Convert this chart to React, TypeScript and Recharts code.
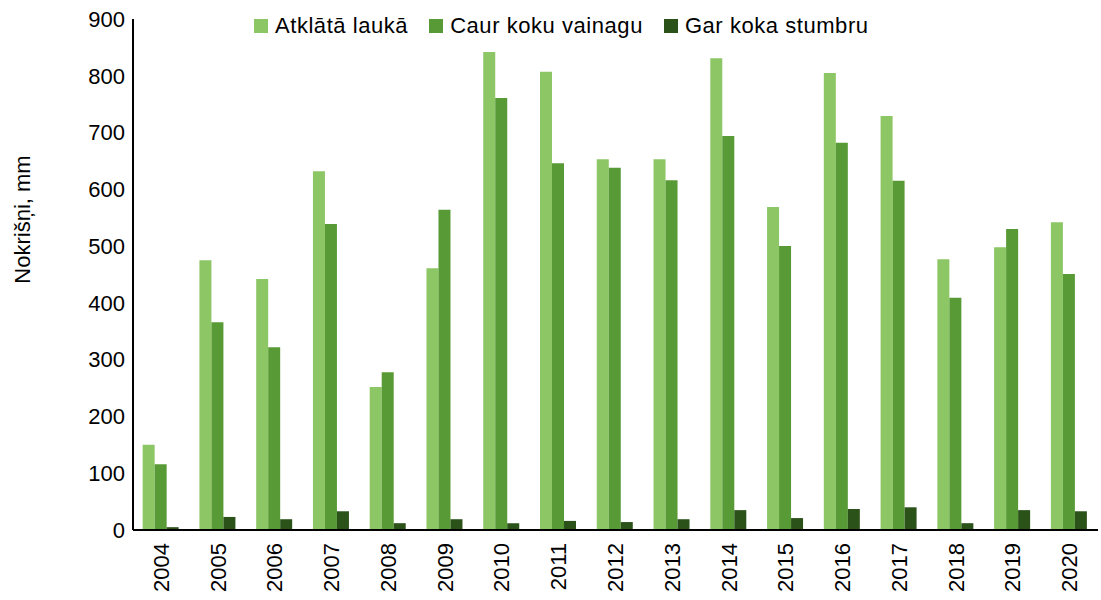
import React from 'react';
import { BarChart, Bar, XAxis, YAxis, Legend } from 'recharts';

const years = ['2004', '2005', '2006', '2007', '2008', '2009', '2010', '2011', '2012', '2013', '2014', '2015', '2016', '2017', '2018', '2019', '2020'];
const atklata = [150, 475, 442, 632, 252, 461, 842, 807, 653, 653, 831, 569, 805, 729, 477, 498, 542];
const caur = [116, 366, 322, 539, 278, 564, 761, 646, 638, 616, 694, 500, 682, 615, 409, 530, 451];
const gar = [5, 23, 19, 33, 12, 19, 12, 16, 14, 19, 35, 21, 37, 40, 12, 35, 33];
const yTicks = [0, 100, 200, 300, 400, 500, 600, 700, 800, 900];
const seriesNames = ['Atklātā laukā', 'Caur koku vainagu', 'Gar koka stumbru'];
const seriesColors = ['#8CC665', '#589A35', '#2B5219'];

const data = years.map((y, i) => ({ year: y, a: atklata[i], c: caur[i], g: gar[i] }));

const FONT = '"Liberation Sans", Arial, sans-serif';

const XTick = (props: any) => {
  const { x, y, payload } = props;
  const ty = y + 5;
  return (
    <text
      x={x}
      y={ty}
      transform={`rotate(-90 ${x} ${ty})`}
      textAnchor="end"
      dominantBaseline="central"
      fontSize={22}
      fontFamily={FONT}
      fill="#000"
    >
      {payload.value}
    </text>
  );
};

const YLabel = (props: any) => {
  const vb = props.viewBox || { x: 0, y: 0, width: 0, height: 0 };
  const cx = vb.x + 22;
  const cy = vb.y + vb.height / 2 - 55;
  return (
    <text
      x={cx}
      y={cy}
      transform={`rotate(-90 ${cx} ${cy})`}
      textAnchor="middle"
      dominantBaseline="central"
      fontSize={22}
      fontFamily={FONT}
      fill="#000"
    >
      Nokrišņi, mm
    </text>
  );
};

const renderLegend = (props: any) => {
  const payload = props.payload || [];
  return (
    <div style={{ display: 'flex', alignItems: 'center', gap: 21, fontFamily: FONT, fontSize: 22, color: '#000', whiteSpace: 'nowrap', letterSpacing: 0.55 }}>
      {payload.map((p: any, i: number) => (
        <div key={i} style={{ display: 'flex', alignItems: 'center' }}>
          <span style={{ display: 'inline-block', width: 14, height: 14, background: p.color, marginRight: 7 }} />
          <span>{p.value}</span>
        </div>
      ))}
    </div>
  );
};

export default function App() {
  return (
    <div style={{ position: 'absolute', left: 0, top: 0, background: '#fff' }}>
      <BarChart
        width={1101}
        height={600}
        data={data}
        margin={{ top: 19, right: 3, bottom: 0, left: 0 }}
        barCategoryGap="17%"
        barGap={0}
      >
        <XAxis
          dataKey="year"
          tickLine={false}
          axisLine={{ stroke: '#000', strokeWidth: 2 }}
          tick={<XTick />}
          height={70}
          interval={0}
        />
        <YAxis
          domain={[0, 900]}
          ticks={yTicks}
          tickLine={false}
          axisLine={{ stroke: '#000', strokeWidth: 2 }}
          tick={{ fill: '#000', fontSize: 22, fontFamily: FONT }}
          width={133}
          label={<YLabel />}
          interval={0}
        />
        <Legend
          layout="horizontal"
          verticalAlign="middle"
          align="center"
          content={renderLegend}
          wrapperStyle={{ top: 13, left: 254, width: 640, height: 28 }}
        />
        <Bar dataKey="a" name={seriesNames[0]} fill={seriesColors[0]} isAnimationActive={false} />
        <Bar dataKey="c" name={seriesNames[1]} fill={seriesColors[1]} isAnimationActive={false} />
        <Bar dataKey="g" name={seriesNames[2]} fill={seriesColors[2]} isAnimationActive={false} />
      </BarChart>
    </div>
  );
}
